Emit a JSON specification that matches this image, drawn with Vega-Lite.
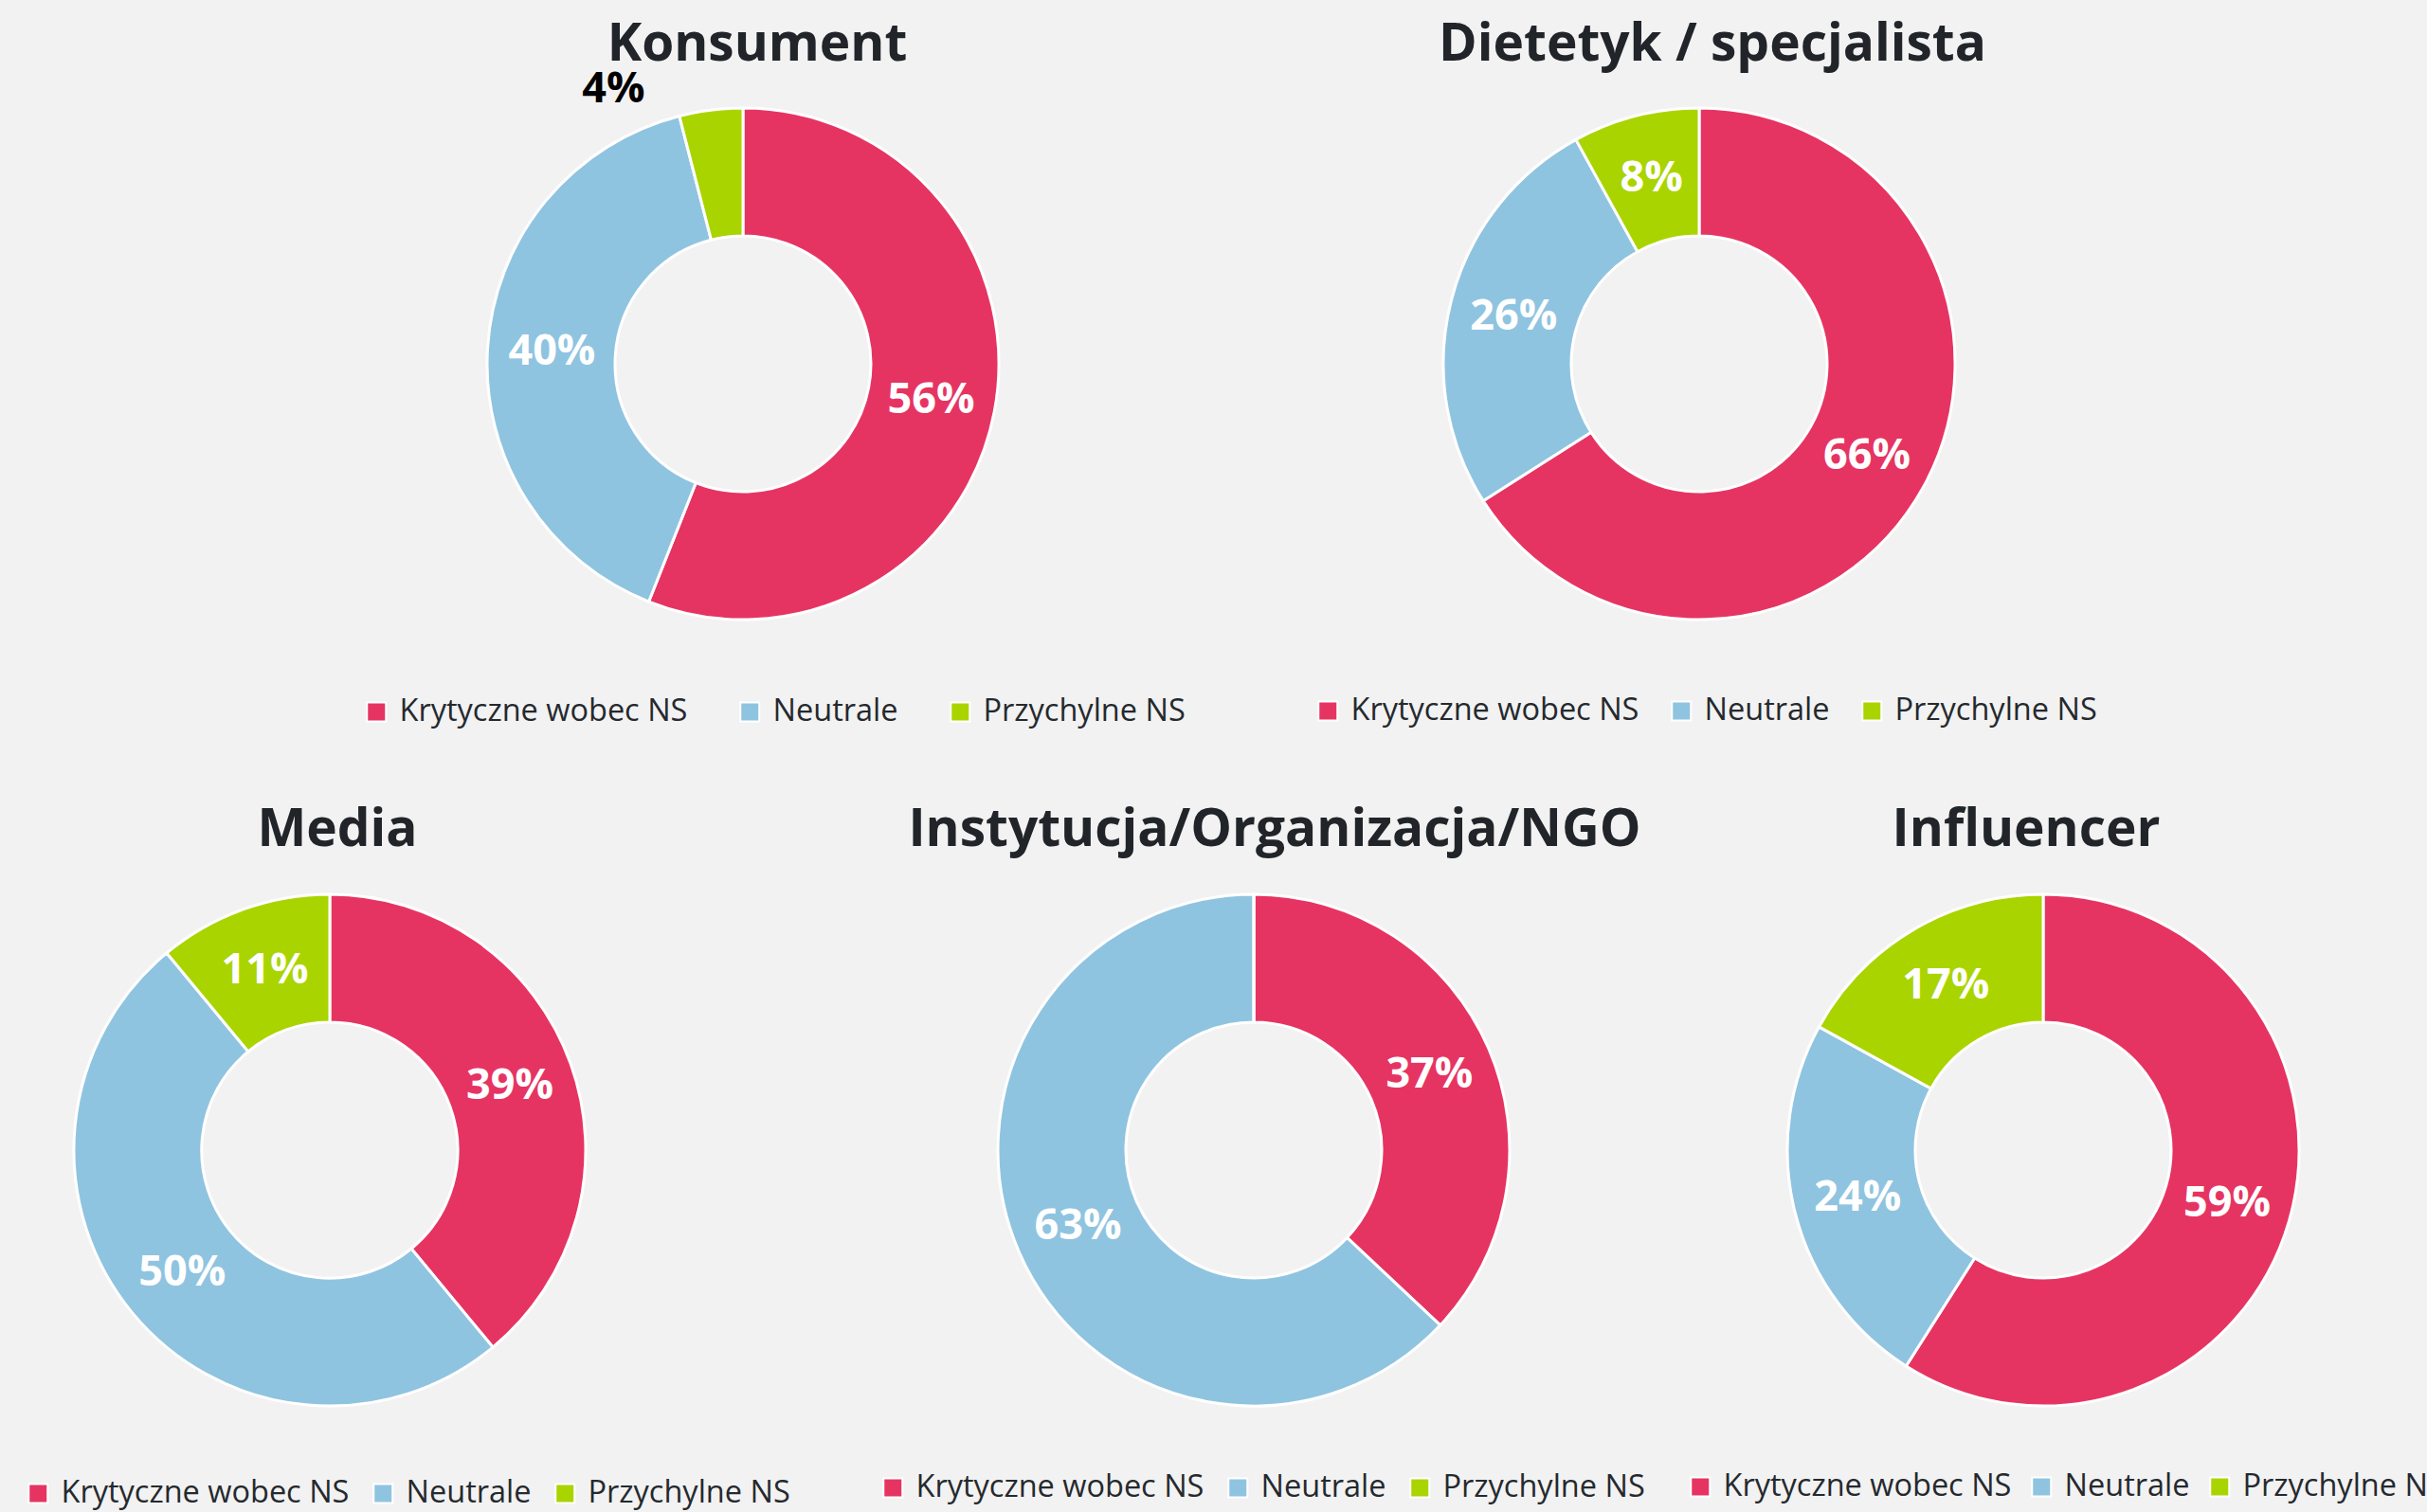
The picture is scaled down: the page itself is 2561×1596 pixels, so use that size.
{
  "$schema": "https://vega.github.io/schema/vega-lite/v6.json",
  "background": "#f2f2f2",
  "padding": 0,
  "config": {
    "view": {"stroke": null},
    "title": {"font": "Open Sans", "fontSize": 55, "fontWeight": "bold", "color": "#212529", "anchor": "middle", "frame": "group", "baseline": "alphabetic"},
    "legend": {"orient": "none", "direction": "horizontal", "symbolType": "square", "symbolSize": 400, "labelFont": "Open Sans", "labelFontSize": 32.5, "labelColor": "#25292e", "labelLimit": 800, "labelOffset": 8, "padding": 0, "symbolStrokeColor": "white", "symbolStrokeWidth": 2}
  },
  "data": {"values": [
    {"grupa": "Konsument", "kategoria": "Krytyczne wobec NS", "udzial": 0.56, "kolejnosc": 1},
    {"grupa": "Konsument", "kategoria": "Neutrale", "udzial": 0.40, "kolejnosc": 2},
    {"grupa": "Konsument", "kategoria": "Przychylne NS", "udzial": 0.04, "kolejnosc": 3},
    {"grupa": "Dietetyk", "kategoria": "Krytyczne wobec NS", "udzial": 0.66, "kolejnosc": 1},
    {"grupa": "Dietetyk", "kategoria": "Neutrale", "udzial": 0.26, "kolejnosc": 2},
    {"grupa": "Dietetyk", "kategoria": "Przychylne NS", "udzial": 0.08, "kolejnosc": 3},
    {"grupa": "Media", "kategoria": "Krytyczne wobec NS", "udzial": 0.39, "kolejnosc": 1},
    {"grupa": "Media", "kategoria": "Neutrale", "udzial": 0.50, "kolejnosc": 2},
    {"grupa": "Media", "kategoria": "Przychylne NS", "udzial": 0.11, "kolejnosc": 3},
    {"grupa": "Instytucja", "kategoria": "Krytyczne wobec NS", "udzial": 0.37, "kolejnosc": 1},
    {"grupa": "Instytucja", "kategoria": "Neutrale", "udzial": 0.63, "kolejnosc": 2},
    {"grupa": "Instytucja", "kategoria": "Przychylne NS", "udzial": 0.0, "kolejnosc": 3},
    {"grupa": "Influencer", "kategoria": "Krytyczne wobec NS", "udzial": 0.59, "kolejnosc": 1},
    {"grupa": "Influencer", "kategoria": "Neutrale", "udzial": 0.24, "kolejnosc": 2},
    {"grupa": "Influencer", "kategoria": "Przychylne NS", "udzial": 0.17, "kolejnosc": 3}
  ]},
  "spacing": 0,
  "resolve": {"legend": {"color": "independent"}},
  "vconcat": [
    {
      "spacing": 0,
      "bounds": "flush",
      "resolve": {"legend": {"color": "independent"}},
      "hconcat": [
        {
          "width": 1568, "height": 768,
          "title": {"text": "Konsument", "dx": 15, "offset": -76},
          "transform": [{"filter": "datum.grupa === 'Konsument'"}],
          "encoding": {
            "theta": {"field": "udzial", "type": "quantitative", "stack": true},
            "order": {"field": "kolejnosc", "type": "quantitative"},
            "detail": {"field": "kategoria", "type": "nominal"}
          },
          "layer": [
            {"mark": {"type": "arc", "innerRadius": 135, "outerRadius": 270, "stroke": "white", "strokeWidth": 3},
             "encoding": {"color": {"field": "kategoria", "type": "nominal",
               "scale": {"domain": ["Krytyczne wobec NS", "Neutrale", "Przychylne NS"], "range": ["#E63462", "#8FC4E0", "#AAD400"]},
               "legend": {"title": null, "legendX": 381, "legendY": 735, "columnPadding": 49}}}},
            {"mark": {"type": "text", "radius": 202, "font": "Open Sans", "fontWeight": "bold", "fontSize": 45, "fill": "white"},
             "encoding": {"text": {"condition": {"test": "datum.udzial >= 0.05", "field": "udzial", "type": "quantitative", "format": ".0%"}, "value": ""}}},
            {"mark": {"type": "text", "radius": 300, "dx": -99, "dy": 8, "font": "Open Sans", "fontWeight": "bold", "fontSize": 45, "fill": "black"},
             "encoding": {"text": {"condition": {"test": "datum.udzial > 0 && datum.udzial < 0.05", "field": "udzial", "type": "quantitative", "format": ".0%"}, "value": ""}}}
          ]
        },
        {
          "width": 450, "height": 768,
          "title": {"text": "Dietetyk / specjalista", "dx": 14, "offset": -76},
          "transform": [{"filter": "datum.grupa === 'Dietetyk'"}],
          "encoding": {
            "theta": {"field": "udzial", "type": "quantitative", "stack": true},
            "order": {"field": "kolejnosc", "type": "quantitative"},
            "detail": {"field": "kategoria", "type": "nominal"}
          },
          "layer": [
            {"mark": {"type": "arc", "innerRadius": 135, "outerRadius": 270, "stroke": "white", "strokeWidth": 3},
             "encoding": {"color": {"field": "kategoria", "type": "nominal",
               "scale": {"domain": ["Krytyczne wobec NS", "Neutrale", "Przychylne NS"], "range": ["#E63462", "#8FC4E0", "#AAD400"]},
               "legend": {"title": null, "legendX": -183, "legendY": 734, "columnPadding": 28}}}},
            {"mark": {"type": "text", "radius": 202, "font": "Open Sans", "fontWeight": "bold", "fontSize": 45, "fill": "white"},
             "encoding": {"text": {"condition": {"test": "datum.udzial >= 0.05", "field": "udzial", "type": "quantitative", "format": ".0%"}, "value": ""}}}
          ]
        }
      ]
    },
    {
      "spacing": 0,
      "bounds": "flush",
      "resolve": {"legend": {"color": "independent"}},
      "hconcat": [
        {
          "width": 696, "height": 892,
          "title": {"text": "Media", "dx": 8, "offset": -137},
          "transform": [{"filter": "datum.grupa === 'Media'"}],
          "encoding": {
            "theta": {"field": "udzial", "type": "quantitative", "stack": true},
            "order": {"field": "kolejnosc", "type": "quantitative"},
            "detail": {"field": "kategoria", "type": "nominal"}
          },
          "layer": [
            {"mark": {"type": "arc", "innerRadius": 135, "outerRadius": 270, "stroke": "white", "strokeWidth": 3},
             "encoding": {"color": {"field": "kategoria", "type": "nominal",
               "scale": {"domain": ["Krytyczne wobec NS", "Neutrale", "Przychylne NS"], "range": ["#E63462", "#8FC4E0", "#AAD400"]},
               "legend": {"title": null, "legendX": 24, "legendY": 792, "columnPadding": 19}}}},
            {"mark": {"type": "text", "radius": 202, "font": "Open Sans", "fontWeight": "bold", "fontSize": 45, "fill": "white"},
             "encoding": {"text": {"condition": {"test": "datum.udzial >= 0.05", "field": "udzial", "type": "quantitative", "format": ".0%"}, "value": ""}}}
          ]
        },
        {
          "width": 1254, "height": 892,
          "title": {"text": "Instytucja/Organizacja/NGO", "dx": 22, "offset": -137},
          "transform": [{"filter": "datum.grupa === 'Instytucja'"}],
          "encoding": {
            "theta": {"field": "udzial", "type": "quantitative", "stack": true},
            "order": {"field": "kolejnosc", "type": "quantitative"},
            "detail": {"field": "kategoria", "type": "nominal"}
          },
          "layer": [
            {"mark": {"type": "arc", "innerRadius": 135, "outerRadius": 270, "stroke": "white", "strokeWidth": 3},
             "encoding": {"color": {"field": "kategoria", "type": "nominal",
               "scale": {"domain": ["Krytyczne wobec NS", "Neutrale", "Przychylne NS"], "range": ["#E63462", "#8FC4E0", "#AAD400"]},
               "legend": {"title": null, "legendX": 230, "legendY": 786, "columnPadding": 19}}}},
            {"mark": {"type": "text", "radius": 202, "font": "Open Sans", "fontWeight": "bold", "fontSize": 45, "fill": "white"},
             "encoding": {"text": {"condition": {"test": "datum.udzial >= 0.05", "field": "udzial", "type": "quantitative", "format": ".0%"}, "value": ""}}}
          ]
        },
        {
          "width": 412, "height": 892,
          "title": {"text": "Influencer", "dx": -18, "offset": -137},
          "transform": [{"filter": "datum.grupa === 'Influencer'"}],
          "encoding": {
            "theta": {"field": "udzial", "type": "quantitative", "stack": true},
            "order": {"field": "kolejnosc", "type": "quantitative"},
            "detail": {"field": "kategoria", "type": "nominal"}
          },
          "layer": [
            {"mark": {"type": "arc", "innerRadius": 135, "outerRadius": 270, "stroke": "white", "strokeWidth": 3},
             "encoding": {"color": {"field": "kategoria", "type": "nominal",
               "scale": {"domain": ["Krytyczne wobec NS", "Neutrale", "Przychylne NS"], "range": ["#E63462", "#8FC4E0", "#AAD400"]},
               "legend": {"title": null, "legendX": -172, "legendY": 785, "columnPadding": 15}}}},
            {"mark": {"type": "text", "radius": 202, "font": "Open Sans", "fontWeight": "bold", "fontSize": 45, "fill": "white"},
             "encoding": {"text": {"condition": {"test": "datum.udzial >= 0.05", "field": "udzial", "type": "quantitative", "format": ".0%"}, "value": ""}}}
          ]
        }
      ]
    }
  ]
}
